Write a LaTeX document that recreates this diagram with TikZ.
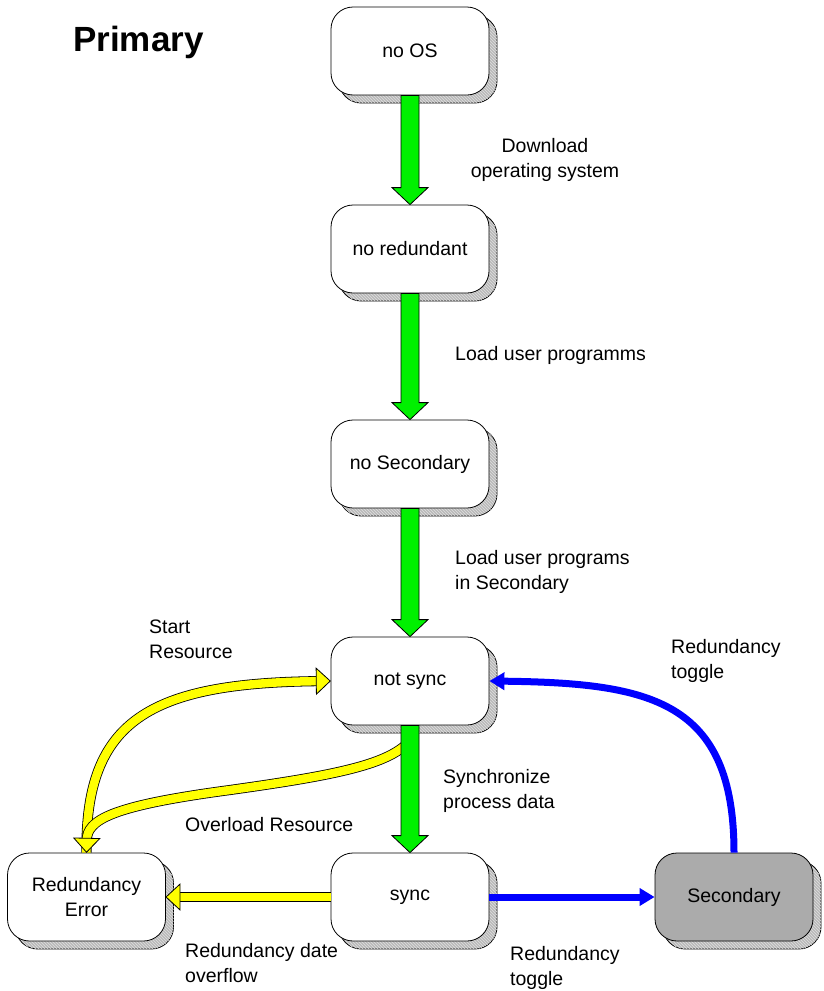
\documentclass[tikz,border=0pt]{standalone}
\usepackage{fontspec}
\setmainfont{Liberation Sans}
\usetikzlibrary{calc,shadows,patterns,decorations.markings,arrows.meta}
\definecolor{grn}{RGB}{0,240,0}
\definecolor{ylw}{RGB}{255,255,0}
\definecolor{blu}{RGB}{0,0,255}
\newcommand\greenarrow[2]{%
  \filldraw[fill=grn, line width=0.8pt, line join=miter]
    ($(#1.south)+(-9,0)$) -- ($(#2.north)+(-9,-17)$) -- ($(#2.north)+(-18,-17)$) --
    (#2.north) -- ($(#2.north)+(18,-17)$) -- ($(#2.north)+(9,-17)$) --
    ($(#1.south)+(9,0)$) -- cycle;}
\newcommand\yarrow[1]{\draw[ybody, shorten >=12pt] #1; \path[yhead] #1;}
\begin{document}
\begin{tikzpicture}[x=1pt,y=-1pt,
  state/.style={draw, line width=0.8pt, fill=white, rounded corners=22pt,
    minimum width=158pt, minimum height=88pt, align=center, inner sep=0pt,
    font=\fontsize{19.5}{25}\selectfont,
    general shadow={shadow xshift=8pt, shadow yshift=-8pt, draw=black,
      line width=0.8pt, fill=gray!55,
      postaction={pattern=north west lines, pattern color=gray!25}}},
  lbl/.style={anchor=base west, align=left, inner sep=0pt,
    font=\fontsize{19.5}{25}\selectfont},
  ybody/.style={draw=black, double=ylw, double distance=8.5pt, line width=0.8pt},
  yhead/.style={decoration={markings, mark=at position 0.999 with {%
      \filldraw[fill=ylw, draw=black, line width=0.8pt, line join=miter]
        (0pt,0pt) -- (-14pt,13pt) -- (-14pt,-13pt) -- cycle;}}, decorate},
  bluearr/.style={draw=blu, line width=7pt, -{Triangle[length=15pt,width=17pt]}}
]
\useasboundingbox (0,0) rectangle (824,991);

% states
\node[state] (os) at (410,51) {no OS};
\node[state] (red) at (410,249) {no redundant};
\node[state] (sec) at (410,464) {no Secondary};
\node[state] (ns) at (410,681) {not sync};
\node[state] (sy) at (410,897) {sync};
\node[state] (err) at (86.5,897) {Redundancy\\Error};
\node[state, fill=black!33] (s2) at (734,897) {Secondary};

% yellow arrows
\yarrow{(err.north) .. controls (85,720) and (150,683) .. (ns.west)}
\yarrow{($(ns.south)+(-6,21)$) .. controls (380,766) and (330,776) .. (230,790)
        .. controls (110,806) and (87,820) .. (err.north)}
\yarrow{(sy.west) -- (err.east)}

% green arrows
\greenarrow{os}{red}
\greenarrow{red}{sec}
\greenarrow{sec}{ns}
\greenarrow{ns}{sy}

% blue arrows
\draw[bluearr] (sy.east) -- (s2.west);
\draw[bluearr] (s2.north) .. controls (734,700) and (650,683) .. (ns.east);

% labels (base anchor = baseline of the last line)
\node[anchor=base west, inner sep=0pt, font=\fontsize{35}{40}\selectfont\bfseries] (title) at (73,51) {Primary};
\node[lbl, anchor=base, align=center] (l1) at (545,177) {Download\\operating system};
\node[lbl] (l2) at (455,360) {Load user programms};
\node[lbl] (l3) at (455,589) {Load user programs\\in Secondary};
\node[lbl] (l4) at (149,658) {Start\\Resource};
\node[lbl] (l5) at (671,678) {Redundancy\\toggle};
\node[lbl] (l6) at (443,808) {Synchronize\\process data};
\node[lbl] (l7) at (185,831) {Overload Resource};
\node[lbl] (l8) at (185,982) {Redundancy date\\overflow};
\node[lbl] (l9) at (510,985) {Redundancy\\toggle};
\end{tikzpicture}
\end{document}
